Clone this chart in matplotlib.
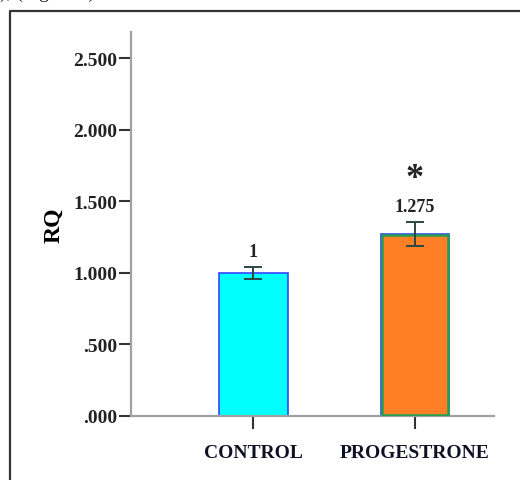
import numpy as np
import matplotlib.pyplot as plt
from matplotlib.lines import Line2D

# Donnees du graphique
groups = ['CONTROL', 'PROGESTRONE']
rq_values = [1.0, 1.275]
rq_errors = [0.045, 0.083]
value_labels = ['1', '1.275']
significance = ['', '*']
y_ticks = [0.0, 0.5, 1.0, 1.5, 2.0, 2.5]
y_tick_labels = ['.000', '.500', '1.000', '1.500', '2.000', '2.500']

plt.rcParams['font.family'] = ['Liberation Serif', 'DejaVu Serif']

fig = plt.figure(figsize=(5.2, 4.81), dpi=100)
ax = fig.add_axes([131 / 520, 1 - 417 / 481, 363 / 520, 384 / 481])

x = np.arange(len(groups))
width = 0.427

# barre controle
ax.bar(x[0], rq_values[0], width, color='#00ffff', edgecolor='#3344ff', linewidth=1.2, zorder=2)
# barre progesterone : bord bleu exterieur, vert interieur
ax.bar(x[1], rq_values[1], width, color='#ff7f27', edgecolor='#3344ff', linewidth=1.2, zorder=2)
ax.bar(x[1], rq_values[1] - 0.014, width - 0.022, bottom=0.007, color='none',
       edgecolor='#22a050', linewidth=1.8, zorder=3)

ax.errorbar(x, rq_values, yerr=rq_errors, fmt='none', ecolor='#2a4844',
            elinewidth=1.4, capsize=6.5, capthick=1.4, zorder=4)

for xi, val, err, lab, sig in zip(x, rq_values, rq_errors, value_labels, significance):
    ax.annotate(lab, (xi, val + err), xytext=(0, 5), textcoords='offset points',
                ha='center', va='bottom', fontsize=13, fontweight='bold', color='#222222')
    if sig:
        ax.annotate(sig, (xi, val + err), xytext=(0, 19), textcoords='offset points',
                    ha='center', va='bottom', fontsize=26, fontweight='bold', color='#222222')

ax.set_xlim(-0.758, 1.489)
ax.set_ylim(0, 2.685)
ax.set_xticks(x)
ax.set_xticklabels(groups, fontsize=14, fontweight='bold', color='#101025')
ax.set_yticks(y_ticks)
ax.set_yticklabels(y_tick_labels, fontsize=14, fontweight='bold', color='#222222')
ax.tick_params(axis='y', length=9, width=1.5, color='#333333', pad=1)
ax.tick_params(axis='x', length=9, width=1.5, color='#333333', pad=11)
ax.set_ylabel('RQ', fontsize=17, fontweight='bold', labelpad=6)

for side in ['top', 'right']:
    ax.spines[side].set_visible(False)
for side in ['left', 'bottom']:
    ax.spines[side].set_color('#a0a0a0')
    ax.spines[side].set_linewidth(1.6)

# cadre de la figure
fig.add_artist(Line2D([10 / 520, 10 / 520, 1.0], [0.0, 1 - 12 / 481, 1 - 12 / 481],
                      transform=fig.transFigure, color='#333333', linewidth=1.6))
fig.text(0.0, 1 + 2 / 481, '), (Figure 4)', fontsize=14, va='baseline', ha='left', color='#222222')

fig.savefig('out.png', dpi=100)
